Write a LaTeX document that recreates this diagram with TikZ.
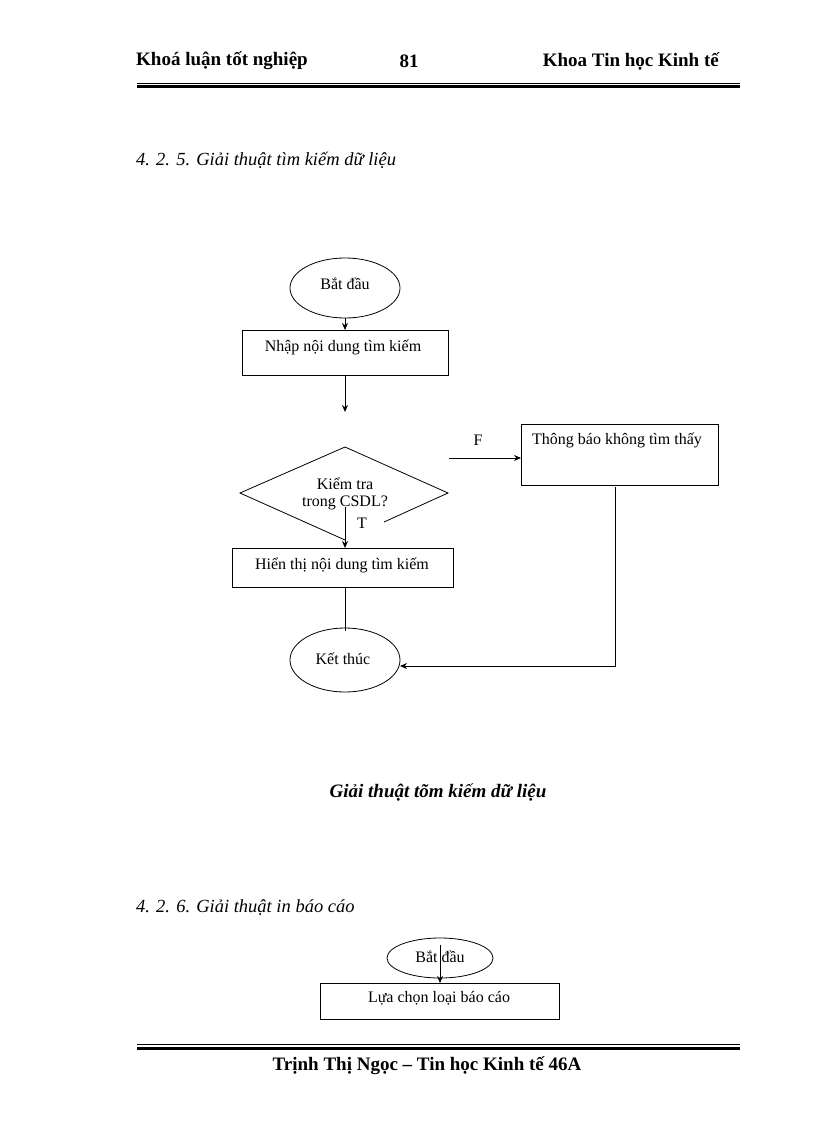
\documentclass[tikz,border=0pt]{standalone}
\usepackage{fontspec}
\setmainfont{Liberation Serif}
\usetikzlibrary{arrows.meta}
\begin{document}
\begin{tikzpicture}[x=1pt,y=-1pt,
  box/.style={draw,line width=0.8pt,inner sep=0pt},
  lbl/.style={font=\fontsize{16}{18}\selectfont,inner sep=0pt},
  hdr/.style={font=\bfseries\fontsize{19}{21}\selectfont,inner sep=0pt},
  sec/.style={anchor=west,font=\itshape\fontsize{18.5}{21}\selectfont,inner sep=0pt},
  arr/.style={line width=0.8pt,-{Stealth[length=7pt,width=6pt]}},
  ln/.style={line width=0.8pt}]
\useasboundingbox (0,0) rectangle (816,1123);
% header
\node[hdr,anchor=west] (h1) at (136,61) {Khoá luận tốt nghiệp};
\node[hdr] (h2) at (409,61) {81};
\node[hdr,anchor=east] (h3) at (719,61) {Khoa Tin học Kinh tế};
\draw[line width=0.8pt] (137,83) -- (740,83);
\draw[line width=3pt] (137,87) -- (740,87);
\node[sec] (s1) at (136,160) {4. 2. 5. Giải thuật tìm kiếm dữ liệu};
% flowchart
\draw[ln] (345,288) ellipse [x radius=55, y radius=30];
\node[lbl] (bd) at (345,284) {Bắt đầu};
\draw[box] (242,330) rectangle (448,375);
\node[lbl] (nh) at (343,347) {Nhập nội dung tìm kiếm};
\coordinate (bdb) at (345,318);
\coordinate (nht) at (345,330);
\draw[arr] (bdb) -- (nht);
\coordinate (nhb) at (345,375);
\coordinate (nhe) at (345,412);
\draw[arr] (nhb) -- (nhe);
% diamond
\coordinate (dl) at (240,493);
\coordinate (dt) at (345,447);
\coordinate (dr) at (448,493);
\coordinate (db) at (345,540);
\draw[ln] (384,522) -- (dr) -- (dt) -- (dl) -- (db);
\node[lbl] (k1) at (345,484) {Kiểm tra};
\node[lbl] (k2) at (345,503) {trong CSDL?};
\coordinate (ks) at (345,507);
\coordinate (hit) at (345,548);
\draw[arr] (ks) -- (hit);
\node[lbl] (T) at (362,523) {T};
\draw[box] (232,548) rectangle (453,587);
\node[lbl] (ht) at (342,565) {Hiển thị nội dung tìm kiếm};
\draw[ln] (345,587) -- (345,631);
\draw[ln] (345,660) ellipse [x radius=55, y radius=32];
\node[lbl] (kt) at (343,659) {Kết thúc};
% F branch
\coordinate (fs) at (449,458);
\coordinate (fe) at (521,458);
\draw[arr] (fs) -- (fe);
\node[lbl] (F) at (478,440) {F};
\draw[box] (521,424) rectangle (718,485);
\node[lbl] (tb) at (617,440) {Thông báo không tìm thấy};
\coordinate (tbb) at (615,487);
\coordinate (cr) at (615,666);
\coordinate (ker) at (400,666);
\draw[arr] (tbb) -- (cr) -- (ker);
% caption
\node[font=\bfseries\itshape\fontsize{19}{21}\selectfont,inner sep=0pt] (cap) at (438,792) {Giải thuật tõm kiếm dữ liệu};
\node[sec] (s2) at (136,908) {4. 2. 6. Giải thuật in báo cáo};
\draw[ln] (440,958) ellipse [x radius=53, y radius=20];
\node[lbl] (bd2) at (440,957) {Bắt đầu};
\coordinate (b2a) at (440,945);
\coordinate (b2b) at (440,983);
\draw[arr] (b2a) -- (b2b);
\draw[box] (320,983) rectangle (559,1019);
\node[lbl] (lc) at (439,998) {Lựa chọn loại báo cáo};
% footer
\draw[line width=0.8pt] (137,1044) -- (740,1044);
\draw[line width=3pt] (137,1048) -- (740,1048);
\node[hdr] (ft) at (427,1066) {Trịnh Thị Ngọc – Tin học Kinh tế 46A};
\end{tikzpicture}
\end{document}
